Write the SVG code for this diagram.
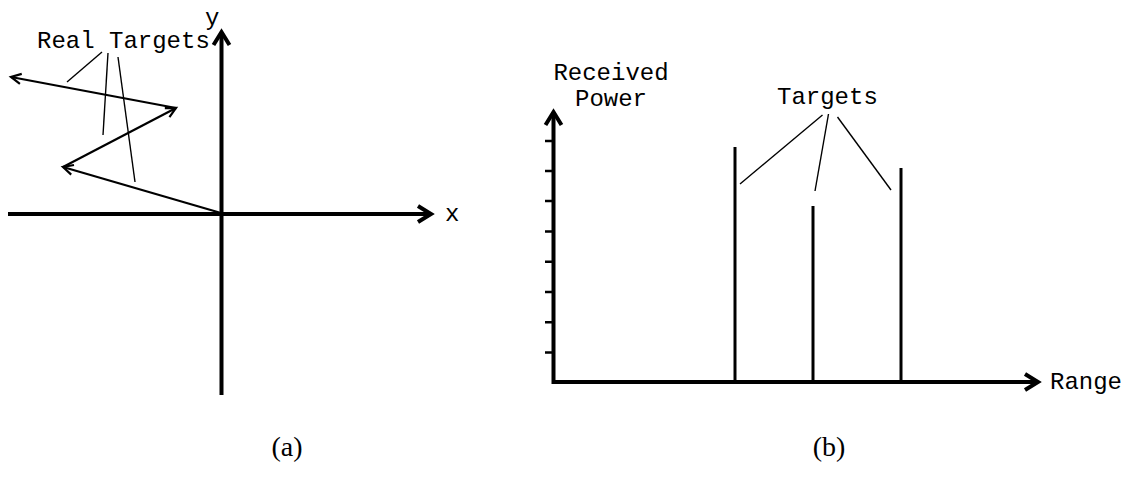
<svg xmlns="http://www.w3.org/2000/svg" width="1124" height="478" viewBox="0 0 1124 478">
<style>
.axis{stroke:#000;stroke-width:4;fill:none}
.vec{stroke:#000;stroke-width:2.2;fill:none}
.ptr{stroke:#000;stroke-width:1.4;fill:none}
.bar{stroke:#000;stroke-width:3;fill:none}
.tick{stroke:#000;stroke-width:2.5;fill:none}
.mono{font-family:"Liberation Mono","Courier New",monospace;font-size:24px;fill:#000}
.serif{font-family:"Liberation Serif","Times New Roman",serif;font-size:28px;fill:#000}
</style>
<defs>
<marker id="bigArrow" markerUnits="userSpaceOnUse" viewBox="-20 -12 24 24" markerWidth="24" markerHeight="24" refX="0" refY="0" orient="auto" overflow="visible">
<path d="M-13,-8 L0,0 L-13,8" fill="none" stroke="#000" stroke-width="4" stroke-linejoin="miter"/>
</marker>
<marker id="smallArrow" markerUnits="userSpaceOnUse" viewBox="-14 -8 16 16" markerWidth="16" markerHeight="16" refX="0" refY="0" orient="auto" overflow="visible">
<path d="M-10,-5 L0,0 L-10,5" fill="none" stroke="#000" stroke-width="2.2"/>
</marker>
</defs>
<rect width="1124" height="478" fill="#fff"/>
<g id="connectors">
<path class="axis" d="M8,214 H431" marker-end="url(#bigArrow)"/>
<path class="axis" d="M221.5,395 V32" marker-end="url(#bigArrow)"/>
<path class="vec" d="M221,213 L63,167" marker-end="url(#smallArrow)"/>
<path class="vec" d="M63,167 L176,108" marker-end="url(#smallArrow)"/>
<path class="vec" d="M176,108 L11,77" marker-end="url(#smallArrow)"/>
<path class="ptr" d="M102,52 L67,82"/>
<path class="ptr" d="M108,53 L103,135"/>
<path class="ptr" d="M118,57 L135,182"/>
<path class="axis" d="M553.5,384 V112" marker-end="url(#bigArrow)"/>
<path class="axis" d="M552,382 H1038" marker-end="url(#bigArrow)"/>
<path class="tick" d="M545,141H554M545,171H554M545,201H554M545,231.5H554M545,261.7H554M545,292H554M545,322.3H554M545,352.5H554"/>
<path class="bar" d="M735,147 V382"/>
<path class="bar" d="M813,206 V382"/>
<path class="bar" d="M901,168 V382"/>
<path class="ptr" d="M822.5,115 L740,184"/>
<path class="ptr" d="M828.5,114 L815,191"/>
<path class="ptr" d="M837.5,117 L891,190"/>
</g>
<g id="label-real-targets"><text class="mono" x="37" y="48">Real Targets</text></g>
<g id="label-y"><text class="mono" x="205" y="25">y</text></g>
<g id="label-x"><text class="mono" x="445" y="221">x</text></g>
<g id="label-received-power"><text class="mono" x="611" y="80" text-anchor="middle">Received</text><text class="mono" x="611" y="106" text-anchor="middle">Power</text></g>
<g id="label-targets"><text class="mono" x="777" y="104">Targets</text></g>
<g id="label-range"><text class="mono" x="1050" y="389">Range</text></g>
<g id="caption-a"><text class="serif" x="287" y="456" text-anchor="middle">(a)</text></g>
<g id="caption-b"><text class="serif" x="829" y="456" text-anchor="middle">(b)</text></g>
</svg>
